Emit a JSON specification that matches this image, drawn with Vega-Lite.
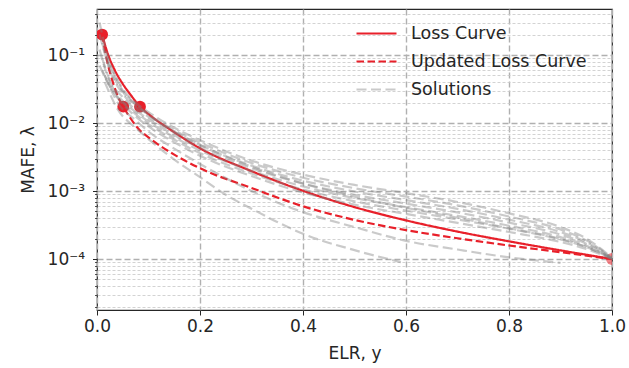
{
  "$schema": "https://vega.github.io/schema/vega-lite/v6.json",
  "autosize": {"type": "none"},
  "width": 515,
  "height": 301,
  "padding": {"left": 97, "top": 9, "right": 17, "bottom": 58},
  "background": "white",
  "config": {
    "font": "DejaVu Sans",
    "view": {"stroke": "#262626", "strokeWidth": 1.2},
    "axis": {"labelFont": "DejaVu Sans", "titleFont": "DejaVu Sans", "labelColor": "#262626", "titleColor": "#262626", "titleFontWeight": "normal", "domain": false, "tickColor": "#262626"},
    "legend": {"labelLimit": 400}
  },
  "data": {"values": [
    {"series": "Loss Curve", "curve": "L", "x": 0.01, "v": 0.2},
    {"series": "Loss Curve", "curve": "L", "x": 0.02, "v": 0.1096},
    {"series": "Loss Curve", "curve": "L", "x": 0.035, "v": 0.0589},
    {"series": "Loss Curve", "curve": "L", "x": 0.05, "v": 0.0376},
    {"series": "Loss Curve", "curve": "L", "x": 0.065, "v": 0.02615},
    {"series": "Loss Curve", "curve": "L", "x": 0.0835, "v": 0.0174},
    {"series": "Loss Curve", "curve": "L", "x": 0.103, "v": 0.01297},
    {"series": "Loss Curve", "curve": "L", "x": 0.145, "v": 0.00776},
    {"series": "Loss Curve", "curve": "L", "x": 0.2, "v": 0.00425},
    {"series": "Loss Curve", "curve": "L", "x": 0.3, "v": 0.00196},
    {"series": "Loss Curve", "curve": "L", "x": 0.4, "v": 0.001007},
    {"series": "Loss Curve", "curve": "L", "x": 0.5, "v": 0.00058},
    {"series": "Loss Curve", "curve": "L", "x": 0.6, "v": 0.00037},
    {"series": "Loss Curve", "curve": "L", "x": 0.7, "v": 0.000253},
    {"series": "Loss Curve", "curve": "L", "x": 0.8, "v": 0.000182},
    {"series": "Loss Curve", "curve": "L", "x": 0.9, "v": 0.000134},
    {"series": "Loss Curve", "curve": "L", "x": 1.0, "v": 0.0001},

    {"series": "Updated Loss Curve", "curve": "U", "x": 0.01, "v": 0.2},
    {"series": "Updated Loss Curve", "curve": "U", "x": 0.02, "v": 0.0794},
    {"series": "Updated Loss Curve", "curve": "U", "x": 0.03, "v": 0.0417},
    {"series": "Updated Loss Curve", "curve": "U", "x": 0.04, "v": 0.0251},
    {"series": "Updated Loss Curve", "curve": "U", "x": 0.051, "v": 0.0174},
    {"series": "Updated Loss Curve", "curve": "U", "x": 0.065, "v": 0.01175},
    {"series": "Updated Loss Curve", "curve": "U", "x": 0.08, "v": 0.0083},
    {"series": "Updated Loss Curve", "curve": "U", "x": 0.103, "v": 0.0059},
    {"series": "Updated Loss Curve", "curve": "U", "x": 0.15, "v": 0.00343},
    {"series": "Updated Loss Curve", "curve": "U", "x": 0.2, "v": 0.00216},
    {"series": "Updated Loss Curve", "curve": "U", "x": 0.3, "v": 0.00111},
    {"series": "Updated Loss Curve", "curve": "U", "x": 0.4, "v": 0.000596},
    {"series": "Updated Loss Curve", "curve": "U", "x": 0.5, "v": 0.000376},
    {"series": "Updated Loss Curve", "curve": "U", "x": 0.6, "v": 0.000266},
    {"series": "Updated Loss Curve", "curve": "U", "x": 0.7, "v": 0.000202},
    {"series": "Updated Loss Curve", "curve": "U", "x": 0.8, "v": 0.000158},
    {"series": "Updated Loss Curve", "curve": "U", "x": 0.9, "v": 0.000126},
    {"series": "Updated Loss Curve", "curve": "U", "x": 1.0, "v": 0.0001},

    {"series": "Solutions", "curve": "g1", "x": 0.005, "v": 0.3},
    {"series": "Solutions", "curve": "g1", "x": 0.02, "v": 0.1},
    {"series": "Solutions", "curve": "g1", "x": 0.05, "v": 0.032},
    {"series": "Solutions", "curve": "g1", "x": 0.075, "v": 0.02},
    {"series": "Solutions", "curve": "g1", "x": 0.1, "v": 0.0145},
    {"series": "Solutions", "curve": "g1", "x": 0.15, "v": 0.0085},
    {"series": "Solutions", "curve": "g1", "x": 0.2, "v": 0.0056},
    {"series": "Solutions", "curve": "g1", "x": 0.3, "v": 0.0028},
    {"series": "Solutions", "curve": "g1", "x": 0.4, "v": 0.00174},
    {"series": "Solutions", "curve": "g1", "x": 0.5, "v": 0.00123},
    {"series": "Solutions", "curve": "g1", "x": 0.6, "v": 0.00093},
    {"series": "Solutions", "curve": "g1", "x": 0.7, "v": 0.00069},
    {"series": "Solutions", "curve": "g1", "x": 0.8, "v": 0.00047},
    {"series": "Solutions", "curve": "g1", "x": 0.9, "v": 0.000295},
    {"series": "Solutions", "curve": "g1", "x": 0.95, "v": 0.0002},
    {"series": "Solutions", "curve": "g1", "x": 1.0, "v": 0.000105},

    {"series": "Solutions", "curve": "g2", "x": 0.005, "v": 0.2},
    {"series": "Solutions", "curve": "g2", "x": 0.02, "v": 0.08},
    {"series": "Solutions", "curve": "g2", "x": 0.05, "v": 0.029},
    {"series": "Solutions", "curve": "g2", "x": 0.075, "v": 0.0185},
    {"series": "Solutions", "curve": "g2", "x": 0.1, "v": 0.01334},
    {"series": "Solutions", "curve": "g2", "x": 0.15, "v": 0.00785},
    {"series": "Solutions", "curve": "g2", "x": 0.2, "v": 0.00515},
    {"series": "Solutions", "curve": "g2", "x": 0.3, "v": 0.00258},
    {"series": "Solutions", "curve": "g2", "x": 0.4, "v": 0.00157},
    {"series": "Solutions", "curve": "g2", "x": 0.5, "v": 0.0011},
    {"series": "Solutions", "curve": "g2", "x": 0.6, "v": 0.000828},
    {"series": "Solutions", "curve": "g2", "x": 0.7, "v": 0.000614},
    {"series": "Solutions", "curve": "g2", "x": 0.8, "v": 0.000422},
    {"series": "Solutions", "curve": "g2", "x": 0.9, "v": 0.000271},
    {"series": "Solutions", "curve": "g2", "x": 0.95, "v": 0.000188},
    {"series": "Solutions", "curve": "g2", "x": 1.0, "v": 0.000104},

    {"series": "Solutions", "curve": "g3", "x": 0.01, "v": 0.15},
    {"series": "Solutions", "curve": "g3", "x": 0.025, "v": 0.06},
    {"series": "Solutions", "curve": "g3", "x": 0.05, "v": 0.027},
    {"series": "Solutions", "curve": "g3", "x": 0.075, "v": 0.017},
    {"series": "Solutions", "curve": "g3", "x": 0.1, "v": 0.0123},
    {"series": "Solutions", "curve": "g3", "x": 0.15, "v": 0.00724},
    {"series": "Solutions", "curve": "g3", "x": 0.2, "v": 0.00471},
    {"series": "Solutions", "curve": "g3", "x": 0.3, "v": 0.00236},
    {"series": "Solutions", "curve": "g3", "x": 0.4, "v": 0.00142},
    {"series": "Solutions", "curve": "g3", "x": 0.5, "v": 0.000984},
    {"series": "Solutions", "curve": "g3", "x": 0.6, "v": 0.000736},
    {"series": "Solutions", "curve": "g3", "x": 0.7, "v": 0.000546},
    {"series": "Solutions", "curve": "g3", "x": 0.8, "v": 0.00038},
    {"series": "Solutions", "curve": "g3", "x": 0.9, "v": 0.000249},
    {"series": "Solutions", "curve": "g3", "x": 0.95, "v": 0.000178},
    {"series": "Solutions", "curve": "g3", "x": 1.0, "v": 0.000103},

    {"series": "Solutions", "curve": "g4", "x": 0.005, "v": 0.12},
    {"series": "Solutions", "curve": "g4", "x": 0.02, "v": 0.05},
    {"series": "Solutions", "curve": "g4", "x": 0.05, "v": 0.024},
    {"series": "Solutions", "curve": "g4", "x": 0.075, "v": 0.0155},
    {"series": "Solutions", "curve": "g4", "x": 0.1, "v": 0.01135},
    {"series": "Solutions", "curve": "g4", "x": 0.15, "v": 0.00668},
    {"series": "Solutions", "curve": "g4", "x": 0.2, "v": 0.00432},
    {"series": "Solutions", "curve": "g4", "x": 0.3, "v": 0.00216},
    {"series": "Solutions", "curve": "g4", "x": 0.4, "v": 0.00129},
    {"series": "Solutions", "curve": "g4", "x": 0.5, "v": 0.000881},
    {"series": "Solutions", "curve": "g4", "x": 0.6, "v": 0.000653},
    {"series": "Solutions", "curve": "g4", "x": 0.7, "v": 0.000484},
    {"series": "Solutions", "curve": "g4", "x": 0.8, "v": 0.000343},
    {"series": "Solutions", "curve": "g4", "x": 0.9, "v": 0.000229},
    {"series": "Solutions", "curve": "g4", "x": 0.95, "v": 0.000168},
    {"series": "Solutions", "curve": "g4", "x": 1.0, "v": 0.000102},

    {"series": "Solutions", "curve": "g5", "x": 0.01, "v": 0.09},
    {"series": "Solutions", "curve": "g5", "x": 0.03, "v": 0.034},
    {"series": "Solutions", "curve": "g5", "x": 0.05, "v": 0.021},
    {"series": "Solutions", "curve": "g5", "x": 0.075, "v": 0.0145},
    {"series": "Solutions", "curve": "g5", "x": 0.1, "v": 0.01047},
    {"series": "Solutions", "curve": "g5", "x": 0.15, "v": 0.00617},
    {"series": "Solutions", "curve": "g5", "x": 0.2, "v": 0.00395},
    {"series": "Solutions", "curve": "g5", "x": 0.3, "v": 0.00198},
    {"series": "Solutions", "curve": "g5", "x": 0.4, "v": 0.00117},
    {"series": "Solutions", "curve": "g5", "x": 0.5, "v": 0.000789},
    {"series": "Solutions", "curve": "g5", "x": 0.6, "v": 0.000579},
    {"series": "Solutions", "curve": "g5", "x": 0.7, "v": 0.00043},
    {"series": "Solutions", "curve": "g5", "x": 0.8, "v": 0.000309},
    {"series": "Solutions", "curve": "g5", "x": 0.9, "v": 0.00021},
    {"series": "Solutions", "curve": "g5", "x": 0.95, "v": 0.000158},
    {"series": "Solutions", "curve": "g5", "x": 1.0, "v": 0.000102},

    {"series": "Solutions", "curve": "g6", "x": 0.005, "v": 0.07},
    {"series": "Solutions", "curve": "g6", "x": 0.02, "v": 0.04},
    {"series": "Solutions", "curve": "g6", "x": 0.05, "v": 0.02},
    {"series": "Solutions", "curve": "g6", "x": 0.075, "v": 0.0135},
    {"series": "Solutions", "curve": "g6", "x": 0.1, "v": 0.00966},
    {"series": "Solutions", "curve": "g6", "x": 0.15, "v": 0.00569},
    {"series": "Solutions", "curve": "g6", "x": 0.2, "v": 0.00361},
    {"series": "Solutions", "curve": "g6", "x": 0.3, "v": 0.00181},
    {"series": "Solutions", "curve": "g6", "x": 0.4, "v": 0.00105},
    {"series": "Solutions", "curve": "g6", "x": 0.5, "v": 0.000705},
    {"series": "Solutions", "curve": "g6", "x": 0.6, "v": 0.000515},
    {"series": "Solutions", "curve": "g6", "x": 0.7, "v": 0.000382},
    {"series": "Solutions", "curve": "g6", "x": 0.8, "v": 0.000279},
    {"series": "Solutions", "curve": "g6", "x": 0.9, "v": 0.000194},
    {"series": "Solutions", "curve": "g6", "x": 0.95, "v": 0.00015},
    {"series": "Solutions", "curve": "g6", "x": 1.0, "v": 0.000101},

    {"series": "Solutions", "curve": "g7", "x": 0.01, "v": 0.06},
    {"series": "Solutions", "curve": "g7", "x": 0.03, "v": 0.03},
    {"series": "Solutions", "curve": "g7", "x": 0.05, "v": 0.019},
    {"series": "Solutions", "curve": "g7", "x": 0.075, "v": 0.0125},
    {"series": "Solutions", "curve": "g7", "x": 0.1, "v": 0.0089},
    {"series": "Solutions", "curve": "g7", "x": 0.15, "v": 0.0052},
    {"series": "Solutions", "curve": "g7", "x": 0.2, "v": 0.0033},
    {"series": "Solutions", "curve": "g7", "x": 0.3, "v": 0.00166},
    {"series": "Solutions", "curve": "g7", "x": 0.4, "v": 0.00095},
    {"series": "Solutions", "curve": "g7", "x": 0.5, "v": 0.00063},
    {"series": "Solutions", "curve": "g7", "x": 0.6, "v": 0.00046},
    {"series": "Solutions", "curve": "g7", "x": 0.7, "v": 0.00034},
    {"series": "Solutions", "curve": "g7", "x": 0.8, "v": 0.00025},
    {"series": "Solutions", "curve": "g7", "x": 0.9, "v": 0.000178},
    {"series": "Solutions", "curve": "g7", "x": 0.95, "v": 0.000141},
    {"series": "Solutions", "curve": "g7", "x": 1.0, "v": 0.0001},

    {"series": "Solutions", "curve": "g8", "x": 0.015, "v": 0.05},
    {"series": "Solutions", "curve": "g8", "x": 0.04, "v": 0.02},
    {"series": "Solutions", "curve": "g8", "x": 0.075, "v": 0.011},
    {"series": "Solutions", "curve": "g8", "x": 0.1, "v": 0.0075},
    {"series": "Solutions", "curve": "g8", "x": 0.15, "v": 0.0042},
    {"series": "Solutions", "curve": "g8", "x": 0.2, "v": 0.0025},
    {"series": "Solutions", "curve": "g8", "x": 0.25, "v": 0.00155},
    {"series": "Solutions", "curve": "g8", "x": 0.3, "v": 0.001},
    {"series": "Solutions", "curve": "g8", "x": 0.35, "v": 0.00068},
    {"series": "Solutions", "curve": "g8", "x": 0.4, "v": 0.00049},
    {"series": "Solutions", "curve": "g8", "x": 0.5, "v": 0.000295},
    {"series": "Solutions", "curve": "g8", "x": 0.6, "v": 0.000185},
    {"series": "Solutions", "curve": "g8", "x": 0.7, "v": 0.000138},
    {"series": "Solutions", "curve": "g8", "x": 0.8, "v": 0.000106},
    {"series": "Solutions", "curve": "g8", "x": 0.9, "v": 0.000088},

    {"series": "Solutions", "curve": "g9", "x": 0.015, "v": 0.04},
    {"series": "Solutions", "curve": "g9", "x": 0.04, "v": 0.016},
    {"series": "Solutions", "curve": "g9", "x": 0.075, "v": 0.0085},
    {"series": "Solutions", "curve": "g9", "x": 0.1, "v": 0.0058},
    {"series": "Solutions", "curve": "g9", "x": 0.15, "v": 0.0029},
    {"series": "Solutions", "curve": "g9", "x": 0.2, "v": 0.0016},
    {"series": "Solutions", "curve": "g9", "x": 0.25, "v": 0.00088},
    {"series": "Solutions", "curve": "g9", "x": 0.3, "v": 0.00055},
    {"series": "Solutions", "curve": "g9", "x": 0.35, "v": 0.00035},
    {"series": "Solutions", "curve": "g9", "x": 0.4, "v": 0.000235},
    {"series": "Solutions", "curve": "g9", "x": 0.5, "v": 0.000135},
    {"series": "Solutions", "curve": "g9", "x": 0.59, "v": 0.00009},

    {"series": "Solutions", "curve": "g10", "x": 0.02, "v": 0.09},
    {"series": "Solutions", "curve": "g10", "x": 0.05, "v": 0.03},
    {"series": "Solutions", "curve": "g10", "x": 0.075, "v": 0.019},
    {"series": "Solutions", "curve": "g10", "x": 0.1, "v": 0.01312},
    {"series": "Solutions", "curve": "g10", "x": 0.15, "v": 0.00754},
    {"series": "Solutions", "curve": "g10", "x": 0.2, "v": 0.0048},
    {"series": "Solutions", "curve": "g10", "x": 0.3, "v": 0.00228},
    {"series": "Solutions", "curve": "g10", "x": 0.4, "v": 0.00129},
    {"series": "Solutions", "curve": "g10", "x": 0.5, "v": 0.000824},
    {"series": "Solutions", "curve": "g10", "x": 0.6, "v": 0.000566},
    {"series": "Solutions", "curve": "g10", "x": 0.7, "v": 0.000405},
    {"series": "Solutions", "curve": "g10", "x": 0.8, "v": 0.000284},
    {"series": "Solutions", "curve": "g10", "x": 0.9, "v": 0.000197},
    {"series": "Solutions", "curve": "g10", "x": 0.95, "v": 0.000151},
    {"series": "Solutions", "curve": "g10", "x": 1.0, "v": 0.000101},

    {"series": "Marker", "curve": "m", "x": 0.01, "v": 0.2},
    {"series": "Marker", "curve": "m", "x": 0.051, "v": 0.0174},
    {"series": "Marker", "curve": "m", "x": 0.0835, "v": 0.0174},
    {"series": "End", "curve": "e", "x": 1.0, "v": 0.0001}
  ]},
  "layer": [
    {
      "transform": [{"filter": "datum.series == 'Loss Curve' || datum.series == 'Updated Loss Curve'"}],
      "mark": {"type": "line", "clip": true, "interpolate": "monotone"},
      "encoding": {
        "x": {"field": "x", "type": "quantitative", "scale": {"domain": [0, 1], "nice": false, "zero": false},
              "axis": {"values": [0, 0.2, 0.4, 0.6, 0.8, 1.0], "format": ".1f", "title": "ELR, y", "titleFontSize": 17, "labelFontSize": 17, "tickSize": 5, "labelPadding": 3, "titlePadding": 11, "grid": true, "gridColor": "#b0b0b0", "gridDash": [6, 3], "gridWidth": 1.4, "labelFlush": false}},
        "y": {"field": "v", "type": "quantitative", "scale": {"type": "log", "domain": [0.0000178, 0.475], "nice": false},
              "axis": {"orient": "left", "values": [0.0001, 0.001, 0.01, 0.1], "labelExpr": "datum.value >= 0.05 ? '10⁻¹' : datum.value >= 0.005 ? '10⁻²' : datum.value >= 0.0005 ? '10⁻³' : '10⁻⁴'", "title": "MAFE, λ", "titleFontSize": 17, "labelFontSize": 17, "tickSize": 4.5, "labelPadding": 8, "titlePadding": 10, "grid": true, "gridColor": "#b0b0b0", "gridDash": [6, 3], "gridWidth": 1.4}},
        "detail": {"field": "curve"},
        "color": {"field": "series", "type": "nominal", "scale": {"domain": ["Loss Curve", "Updated Loss Curve", "Solutions"], "range": ["#e8202a", "#e8202a", "rgba(128,128,128,0.42)"]},
                  "legend": {"title": null, "orient": "none", "legendX": 265, "legendY": 10, "labelFontSize": 17.5, "labelColor": "#262626", "symbolType": "M-1.5,0H1.5", "symbolSize": 711, "labelOffset": 20, "rowPadding": 5}},
        "strokeDash": {"field": "series", "type": "nominal", "scale": {"domain": ["Loss Curve", "Updated Loss Curve", "Solutions"], "range": [[1, 0], [7.5, 3.5], [10, 4.5]]},
                       "legend": {"title": null, "orient": "none", "legendX": 265, "legendY": 10, "labelFontSize": 17.5, "labelColor": "#262626", "symbolType": "M-1.5,0H1.5", "symbolSize": 711, "labelOffset": 20, "rowPadding": 5}},
        "strokeWidth": {"field": "series", "type": "nominal", "scale": {"domain": ["Loss Curve", "Updated Loss Curve", "Solutions"], "range": [2.2, 2.2, 3.4]},
                       "legend": {"title": null, "orient": "none", "legendX": 265, "legendY": 10, "labelFontSize": 17.5, "labelColor": "#262626", "symbolType": "M-1.5,0H1.5", "symbolSize": 711, "labelOffset": 20, "rowPadding": 5}}
      }
    },
    {
      "transform": [{"filter": "datum.series == 'Marker'"}],
      "mark": {"type": "point", "filled": true, "size": 140, "color": "#e8202a", "opacity": 1, "clip": true},
      "encoding": {
        "x": {"field": "x", "type": "quantitative", "scale": {"domain": [0, 1], "nice": false, "zero": false},
              "axis": {"values": [0, 0.2, 0.4, 0.6, 0.8, 1.0], "format": ".1f", "title": "ELR, y", "titleFontSize": 17, "labelFontSize": 17, "tickSize": 5, "labelPadding": 3, "titlePadding": 11, "grid": true, "gridColor": "#b0b0b0", "gridDash": [6, 3], "gridWidth": 1.4, "labelFlush": false}},
        "y": {"field": "v", "type": "quantitative", "scale": {"type": "log", "domain": [0.0000178, 0.475], "nice": false}, "axis": null}
      }
    },
    {
      "transform": [{"filter": "datum.series == 'End'"}],
      "mark": {"type": "point", "filled": true, "size": 140, "color": "#e8202a", "opacity": 0.55, "clip": true},
      "encoding": {
        "x": {"field": "x", "type": "quantitative", "scale": {"domain": [0, 1], "nice": false, "zero": false},
              "axis": {"values": [0, 0.2, 0.4, 0.6, 0.8, 1.0], "format": ".1f", "title": "ELR, y", "titleFontSize": 17, "labelFontSize": 17, "tickSize": 5, "labelPadding": 3, "titlePadding": 11, "grid": true, "gridColor": "#b0b0b0", "gridDash": [6, 3], "gridWidth": 1.4, "labelFlush": false}},
        "y": {"field": "v", "type": "quantitative", "scale": {"type": "log", "domain": [0.0000178, 0.475], "nice": false}, "axis": null}
      }
    },
    {
      "transform": [{"filter": "datum.series == 'Solutions'"}],
      "mark": {"type": "line", "clip": true, "interpolate": "monotone"},
      "encoding": {
        "x": {"field": "x", "type": "quantitative", "scale": {"domain": [0, 1], "nice": false, "zero": false},
              "axis": {"values": [0, 0.2, 0.4, 0.6, 0.8, 1.0], "format": ".1f", "title": "ELR, y", "titleFontSize": 17, "labelFontSize": 17, "tickSize": 5, "labelPadding": 3, "titlePadding": 11, "grid": true, "gridColor": "#b0b0b0", "gridDash": [6, 3], "gridWidth": 1.4, "labelFlush": false}},
        "y": {"field": "v", "type": "quantitative", "scale": {"type": "log", "domain": [0.0000178, 0.475], "nice": false},
              "axis": {"orient": "left", "values": [0.00002, 0.00003, 0.00004, 0.00005, 0.00006, 0.00007, 0.00008, 0.00009, 0.0002, 0.0003, 0.0004, 0.0005, 0.0006, 0.0007, 0.0008, 0.0009, 0.002, 0.003, 0.004, 0.005, 0.006, 0.007, 0.008, 0.009, 0.02, 0.03, 0.04, 0.05, 0.06, 0.07, 0.08, 0.09, 0.2, 0.3, 0.4], "labels": false, "title": null, "tickSize": 2.5, "tickWidth": 0.8, "grid": true, "gridColor": "#c8c8c8", "gridDash": [3, 2], "gridWidth": 0.8}},
        "detail": {"field": "curve"},
        "color": {"field": "series", "type": "nominal", "scale": {"domain": ["Loss Curve", "Updated Loss Curve", "Solutions"], "range": ["#e8202a", "#e8202a", "rgba(128,128,128,0.42)"]},
                  "legend": {"title": null, "orient": "none", "legendX": 265, "legendY": 10, "labelFontSize": 17.5, "labelColor": "#262626", "symbolType": "M-1.5,0H1.5", "symbolSize": 711, "labelOffset": 20, "rowPadding": 5}},
        "strokeDash": {"field": "series", "type": "nominal", "scale": {"domain": ["Loss Curve", "Updated Loss Curve", "Solutions"], "range": [[1, 0], [7.5, 3.5], [10, 4.5]]},
                       "legend": {"title": null, "orient": "none", "legendX": 265, "legendY": 10, "labelFontSize": 17.5, "labelColor": "#262626", "symbolType": "M-1.5,0H1.5", "symbolSize": 711, "labelOffset": 20, "rowPadding": 5}},
        "strokeWidth": {"field": "series", "type": "nominal", "scale": {"domain": ["Loss Curve", "Updated Loss Curve", "Solutions"], "range": [2.2, 2.2, 3.4]},
                       "legend": {"title": null, "orient": "none", "legendX": 265, "legendY": 10, "labelFontSize": 17.5, "labelColor": "#262626", "symbolType": "M-1.5,0H1.5", "symbolSize": 711, "labelOffset": 20, "rowPadding": 5}}
      }
    }
  ],
  "resolve": {"axis": {"y": "independent"}}
}
